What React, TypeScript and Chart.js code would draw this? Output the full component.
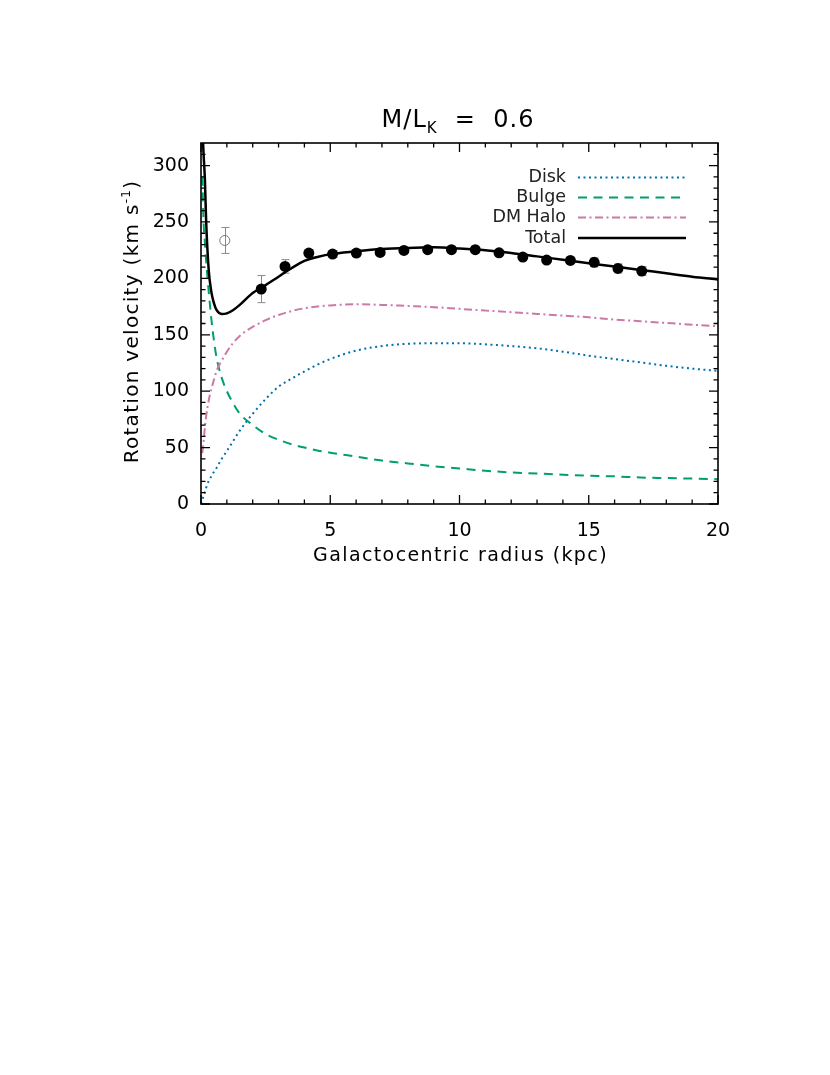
import { useEffect, useRef } from "react";
import { Chart, registerables } from "chart.js";

Chart.register(...registerables);

// ---- data ----
const radius = [0, 0.05, 0.1, 0.15, 0.2, 0.3, 0.4, 0.5, 0.6, 0.8, 1.0, 1.25, 1.5, 2, 2.5, 3, 3.5, 4, 4.5, 5, 6, 7, 8, 9, 10, 11, 12, 13, 14, 15, 16, 17, 18, 19, 20];
const diskVel = [0, 3.5, 7, 10.5, 14.5, 20.5, 24.5, 28.5, 32, 40, 47, 56, 65, 80, 93, 104, 111, 117.5, 123.5, 128.5, 136, 140, 142, 142.5, 142.5, 141.5, 140, 138, 135, 131.5, 128.5, 125.5, 122.5, 120, 118];
const bulgeVel = [null, 290, 250, 232, 215, 188, 164, 145, 130, 112, 100, 89, 80, 70, 62, 57, 53, 50, 47.5, 45.5, 42, 38.5, 36, 33.5, 31.5, 29.5, 28, 27, 26, 25, 24.5, 23.5, 23, 22.5, 22];
const haloVel = [null, 45, 55, 68, 78, 92, 102, 110, 118, 127, 135, 143, 149, 157, 163, 167.5, 171, 173.5, 175, 176, 177, 176.5, 175.5, 174.5, 173, 171.5, 170, 168.5, 167, 165.5, 163.5, 162, 160.5, 159, 157.5];
const totalVel = [null, 335, 310, 288, 250, 207, 188, 178, 172, 168.5, 169, 172, 176.5, 187, 194, 201.5, 209, 215.5, 219, 221.5, 224, 226, 227, 227.5, 226.5, 225, 222.5, 219.5, 216.5, 213.5, 210.5, 207.5, 204.5, 201.5, 199];

const obsRadius = [2.33, 3.25, 4.17, 5.09, 6.01, 6.93, 7.85, 8.77, 9.69, 10.61, 11.53, 12.45, 13.37, 14.29, 15.21, 16.13, 17.05];
const obsVel = [190.5, 210.6, 222.4, 221.5, 222.4, 223, 224.8, 225.4, 225.4, 225.4, 222.7, 218.9, 216.2, 215.9, 214.2, 208.8, 206.5];
const obsErr = [12, 6, 3, 3, 3, 2.5, 2, 2, 2, 2, 2, 2, 2, 2, 4, 4, 4];

const innerRadius = [0.92];
const innerVel = [233.6];
const innerErr = [11.5];

const seriesNames = ["Disk", "Bulge", "DM Halo", "Total"];
const seriesColors = ["#0072B2", "#009E73", "#CC79A7", "#000000"];
const seriesDashes = [[2, 3.5], [9, 6.5], [8, 3.5, 2, 3.5], []];
const seriesWidths = [2, 2, 2, 2.5];

const titleMain = "M/L";
const titleSub = "K";
const titleRest = "  =  0.6";
const xTitle = "Galactocentric radius (kpc)";
const yTitleMain = "Rotation velocity (km s";
const yTitleSup = "-1";
const yTitleEnd = ")";

const FONT = '"DejaVu Sans", sans-serif';

const toXY = (xs: number[], ys: (number | null)[]) => xs.map((x, i) => ({ x, y: ys[i] }));

const decorPlugin = {
  id: "decor",
  beforeDatasetsDraw(chart: any) {
    const { ctx, scales } = chart;
    const x = scales.x, y = scales.y;
    ctx.save();
    ctx.strokeStyle = "#8a8a8a";
    ctx.lineWidth = 1;
    const bars = (rs: number[], vs: number[], es: number[]) => {
      rs.forEach((r, i) => {
        const px = Math.round(x.getPixelForValue(r)) + 0.5;
        const top = y.getPixelForValue(vs[i] + es[i]);
        const bot = y.getPixelForValue(vs[i] - es[i]);
        ctx.beginPath();
        ctx.moveTo(px, top);
        ctx.lineTo(px, bot);
        ctx.moveTo(px - 4, top);
        ctx.lineTo(px + 4, top);
        ctx.moveTo(px - 4, bot);
        ctx.lineTo(px + 4, bot);
        ctx.stroke();
      });
    };
    bars(obsRadius, obsVel, obsErr);
    bars(innerRadius, innerVel, innerErr);
    ctx.restore();
  },
  afterDraw(chart: any) {
    const { ctx, chartArea: a, scales } = chart;
    const x = scales.x, y = scales.y;
    ctx.save();
    // frame
    ctx.strokeStyle = "#000";
    ctx.lineWidth = 1.6;
    ctx.setLineDash([]);
    ctx.strokeRect(a.left, a.top, a.right - a.left, a.bottom - a.top);
    // ticks (inward, all four sides)
    ctx.lineWidth = 1.3;
    ctx.beginPath();
    for (let v = 0; v <= 20; v += 1) {
      const px = x.getPixelForValue(v);
      const len = v % 5 === 0 ? 9 : 4.5;
      ctx.moveTo(px, a.bottom);
      ctx.lineTo(px, a.bottom - len);
      ctx.moveTo(px, a.top);
      ctx.lineTo(px, a.top + len);
    }
    for (let v = 0; v < 320; v += 10) {
      const py = y.getPixelForValue(v);
      const len = v % 50 === 0 ? 9 : 4.5;
      ctx.moveTo(a.left, py);
      ctx.lineTo(a.left + len, py);
      ctx.moveTo(a.right, py);
      ctx.lineTo(a.right - len, py);
    }
    ctx.stroke();

    // title
    ctx.fillStyle = "#000";
    ctx.textBaseline = "alphabetic";
    ctx.textAlign = "left";
    ctx.letterSpacing = "1px";
    const big = `24px ${FONT}`;
    const small = `15px ${FONT}`;
    ctx.font = big;
    const w1 = ctx.measureText(titleMain).width;
    const w3 = ctx.measureText(titleRest).width;
    ctx.font = small;
    const w2 = ctx.measureText(titleSub).width;
    let sx = 458 - (w1 + w2 + w3) / 2;
    ctx.font = big;
    ctx.fillText(titleMain, sx, 127);
    sx += w1;
    ctx.font = small;
    ctx.fillText(titleSub, sx, 133);
    sx += w2;
    ctx.font = big;
    ctx.fillText(titleRest, sx, 127);

    // x title
    ctx.letterSpacing = "1.4px";
    ctx.font = `19px ${FONT}`;
    ctx.textAlign = "center";
    ctx.fillText(xTitle, (a.left + a.right) / 2 + 1, 561);

    // y title (rotated)
    ctx.save();
    ctx.translate(138, (a.top + a.bottom) / 2 - 2);
    ctx.rotate(-Math.PI / 2);
    ctx.textAlign = "left";
    ctx.letterSpacing = "1.3px";
    const mainF = `20px ${FONT}`;
    const supF = `12px ${FONT}`;
    ctx.font = mainF;
    const m1 = ctx.measureText(yTitleMain).width;
    const m3 = ctx.measureText(yTitleEnd).width;
    ctx.font = supF;
    const m2 = ctx.measureText(yTitleSup).width;
    let lx = -(m1 + m2 + m3) / 2;
    ctx.font = mainF;
    ctx.fillText(yTitleMain, lx, 0);
    lx += m1;
    ctx.font = supF;
    ctx.fillText(yTitleSup, lx, -8);
    lx += m2;
    ctx.font = mainF;
    ctx.fillText(yTitleEnd, lx, 0);
    ctx.restore();

    // legend
    ctx.letterSpacing = "0px";
    const rowY = [177.5, 197.5, 217.5, 238];
    ctx.font = `17.5px ${FONT}`;
    ctx.textAlign = "right";
    ctx.textBaseline = "middle";
    seriesNames.forEach((name, i) => {
      ctx.fillStyle = "#222";
      ctx.fillText(name, 566, rowY[i]);
      ctx.strokeStyle = seriesColors[i];
      ctx.lineWidth = seriesWidths[i];
      ctx.setLineDash(seriesDashes[i]);
      ctx.beginPath();
      ctx.moveTo(578, rowY[i]);
      ctx.lineTo(686, rowY[i]);
      ctx.stroke();
    });
    ctx.setLineDash([]);
    ctx.restore();
  },
};

export default function App() {
  const ref = useRef<HTMLCanvasElement>(null);
  useEffect(() => {
    const canvas = ref.current;
    if (!canvas) return;
    const lineDs = (i: number, vals: (number | null)[]) => ({
      label: seriesNames[i],
      data: toXY(radius, vals),
      showLine: true,
      borderColor: seriesColors[i],
      borderWidth: seriesWidths[i],
      borderDash: seriesDashes[i],
      pointRadius: 0,
      pointHoverRadius: 0,
      cubicInterpolationMode: "monotone" as const,
      fill: false,
      spanGaps: false,
    });
    const chart = new Chart(canvas, {
      type: "scatter",
      data: {
        datasets: [
          {
            label: "Observed",
            data: toXY(obsRadius, obsVel),
            showLine: false,
            pointRadius: 5.5,
            pointBackgroundColor: "#000",
            pointBorderColor: "#000",
            pointBorderWidth: 0,
          },
          {
            label: "Inner",
            data: toXY(innerRadius, innerVel),
            showLine: false,
            pointRadius: 5,
            pointBackgroundColor: "rgba(0,0,0,0)",
            pointBorderColor: "#777",
            pointBorderWidth: 1,
          },
          lineDs(3, totalVel),
          lineDs(2, haloVel),
          lineDs(1, bulgeVel),
          lineDs(0, diskVel),
        ] as any,
      },
      options: {
        animation: false,
        responsive: false,
        devicePixelRatio: 1,
        events: [],
        layout: { padding: { left: 0, top: 143, right: 112, bottom: 1075 - 504 - 80 } },
        plugins: { legend: { display: false }, title: { display: false }, tooltip: { enabled: false } },
        scales: {
          x: {
            type: "linear",
            min: 0,
            max: 20,
            ticks: { stepSize: 5, color: "#000", padding: 8, maxRotation: 0, font: { family: FONT, size: 19 } },
            grid: { display: false },
            border: { display: false },
            afterFit: (s: any) => {
              s.height = 80;
              s.paddingLeft = 0;
              s.paddingRight = 0;
            },
          },
          y: {
            type: "linear",
            min: 0,
            max: 320,
            ticks: { stepSize: 50, color: "#000", padding: 4, font: { family: FONT, size: 19 } },
            afterBuildTicks: (s: any) => {
              s.ticks = s.ticks.filter((t: any) => t.value % 50 === 0);
            },
            grid: { display: false },
            border: { display: false },
            afterFit: (s: any) => {
              s.width = 201;
              s.paddingTop = 0;
              s.paddingBottom = 0;
            },
          },
        },
      } as any,
      plugins: [decorPlugin],
    });
    return () => chart.destroy();
  }, []);
  return (
    <div style={{ position: "absolute", left: 0, top: 0, width: 830, height: 1075, background: "#fff" }}>
      <canvas ref={ref} width={830} height={1075} style={{ display: "block", width: 830, height: 1075 }} />
    </div>
  );
}
